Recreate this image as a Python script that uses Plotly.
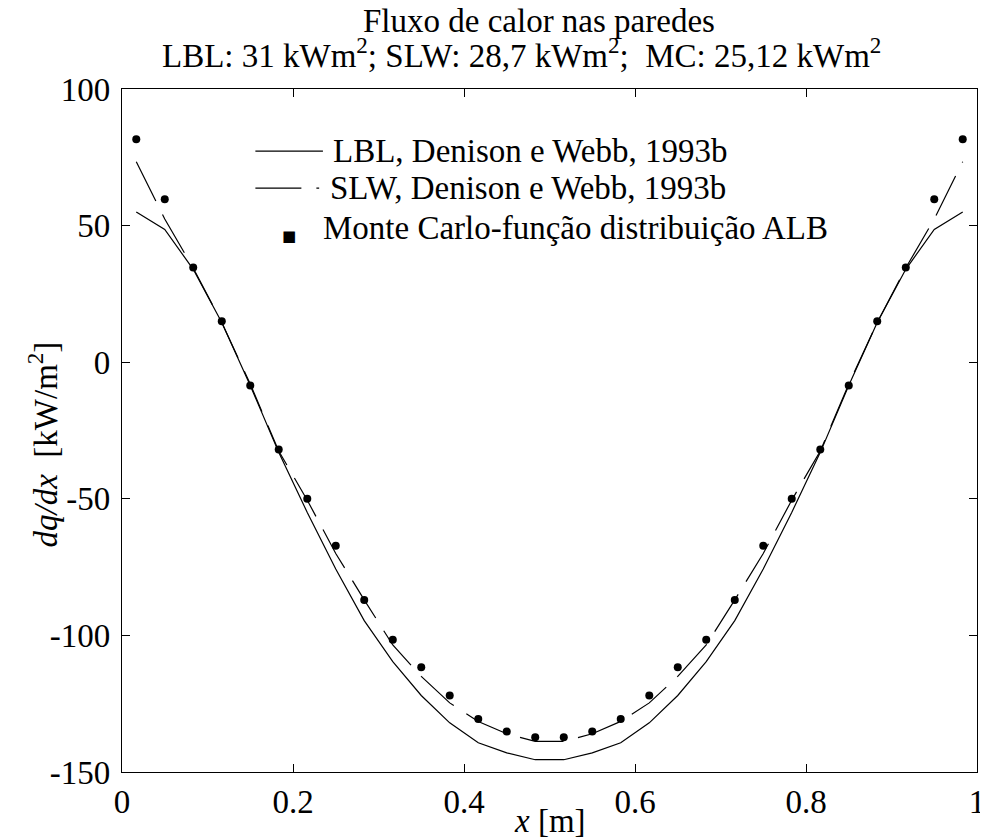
import plotly.graph_objects as go

# x positions of the cell centres (m)
x_pos = [0.0167, 0.05, 0.0833, 0.1167, 0.15, 0.1833, 0.2167, 0.25, 0.2833, 0.3167,
         0.35, 0.3833, 0.4167, 0.45, 0.4833, 0.5167, 0.55, 0.5833, 0.6167, 0.65,
         0.6833, 0.7167, 0.75, 0.7833, 0.8167, 0.85, 0.8833, 0.9167, 0.95, 0.9833]

# LBL, Denison e Webb (solid)
lbl = [55, 48.6, 34, 14.5, -8.5, -33, -55, -75.7, -94.6, -109.6,
       -122, -132, -139.3, -143, -145.5, -145.5, -143, -139.3, -132, -122,
       -109.6, -94.6, -75.7, -55, -33, -8.5, 14.5, 34, 48.6, 55]

# SLW, Denison e Webb (dashed)
slw = [73.4, 52.4, 34.5, 14.5, -8, -32.5, -50.5, -70, -87, -103.5,
       -115, -124.7, -131.5, -136, -138.8, -138.8, -136, -131.5, -124.7, -115,
       -103.5, -87, -70, -50.5, -32.5, -8, 14.5, 34.5, 52.4, 73.4]

# Monte Carlo - ALB (dots)
mc = [81.6, 59.6, 34.7, 15, -8.5, -32, -50, -67.2, -87, -101.6,
      -111.7, -122, -130.6, -135.2, -137.3, -137.3, -135.2, -130.6, -122, -111.7,
      -101.6, -87, -67.2, -50, -32, -8.5, 15, 34.7, 59.6, 81.6]

x_ticks = [0, 0.2, 0.4, 0.6, 0.8, 1]
x_ticklabels = ["0", "0.2", "0.4", "0.6", "0.8", "1"]
y_ticks = [-150, -100, -50, 0, 50, 100]
y_ticklabels = ["-150", "-100", "-50", "0", "50", "100"]

names = ["LBL, Denison e Webb, 1993b", "SLW, Denison e Webb, 1993b",
         "Monte Carlo-função distribuição ALB"]

FONT = "Liberation Serif, Times New Roman, serif"
FS = 33

fig = go.Figure()
fig.add_trace(go.Scatter(x=x_pos, y=lbl, mode="lines", name=names[0],
                         line=dict(color="black", width=1.2)))
fig.add_trace(go.Scatter(x=x_pos, y=slw, mode="lines", name=names[1],
                         line=dict(color="black", width=1.2, dash="44px,15px")))
fig.add_trace(go.Scatter(x=x_pos, y=mc, mode="markers", name=names[2],
                         marker=dict(color="black", size=8, symbol="circle")))

# hand-drawn legend, MATLAB style
fig.add_shape(type="line", xref="paper", yref="paper", x0=0.156, x1=0.235,
              y0=0.909, y1=0.909, line=dict(color="black", width=1.2))
fig.add_shape(type="line", xref="paper", yref="paper", x0=0.156, x1=0.2306,
              y0=0.855, y1=0.855, line=dict(color="black", width=1.2, dash="46px,15px"))
fig.add_annotation(xref="paper", yref="paper", x=0.185, y=0.801, text="■",
                   showarrow=False, font=dict(family="DejaVu Sans", size=15, color="black"))
legend_y = [0.909, 0.855, 0.796]
legend_x = [0.2445, 0.241, 0.233]
for nm, lx, ly in zip(names, legend_x, legend_y):
    fig.add_annotation(xref="paper", yref="paper", x=lx, y=ly, text=nm,
                       xanchor="left", yanchor="middle", showarrow=False,
                       font=dict(family=FONT, size=FS, color="black"))

# titles
fig.add_annotation(xref="paper", yref="paper", x=0.488, y=1.099,
                   text="Fluxo de calor nas paredes", showarrow=False,
                   yanchor="middle", font=dict(family=FONT, size=FS, color="black"))
fig.add_annotation(xref="paper", yref="paper", x=0.467, y=1.052,
                   text="LBL: 31 kWm<sup>2</sup>; SLW: 28,7 kWm<sup>2</sup>;  MC: 25,12 kWm<sup>2</sup>",
                   showarrow=False, yanchor="middle",
                   font=dict(family=FONT, size=FS, color="black"))
fig.add_annotation(xref="paper", yref="paper", x=0.5, y=-0.072,
                   text="<i>x</i> [m]", showarrow=False, yanchor="middle",
                   font=dict(family=FONT, size=FS, color="black"))
fig.add_annotation(xref="paper", yref="paper", x=-0.092, y=0.48,
                   text="<i>dq/dx</i>  [kW/m<sup>2</sup>]", textangle=-90,
                   showarrow=False, xanchor="center", yanchor="middle",
                   font=dict(family=FONT, size=FS, color="black"))

axis_common = dict(showgrid=False, zeroline=False, showline=True, linecolor="black",
                   linewidth=1.3, mirror="ticks", ticks="inside", ticklen=8,
                   tickwidth=1, tickcolor="black",
                   tickfont=dict(family=FONT, size=FS, color="black"))

# the page body adds an 8px offset, so margins are shifted to keep the plot box in place
fig.update_layout(
    width=988, height=838,
    margin=dict(l=114, r=11, t=81, b=74),
    showlegend=False,
    plot_bgcolor="white", paper_bgcolor="white",
    xaxis=dict(range=[0, 1], tickvals=x_ticks, ticktext=x_ticklabels, **axis_common),
    yaxis=dict(range=[-150, 100], tickvals=y_ticks, ticktext=y_ticklabels,
               ticklabelstandoff=4, **axis_common),
)

fig.write_html("out.html")
